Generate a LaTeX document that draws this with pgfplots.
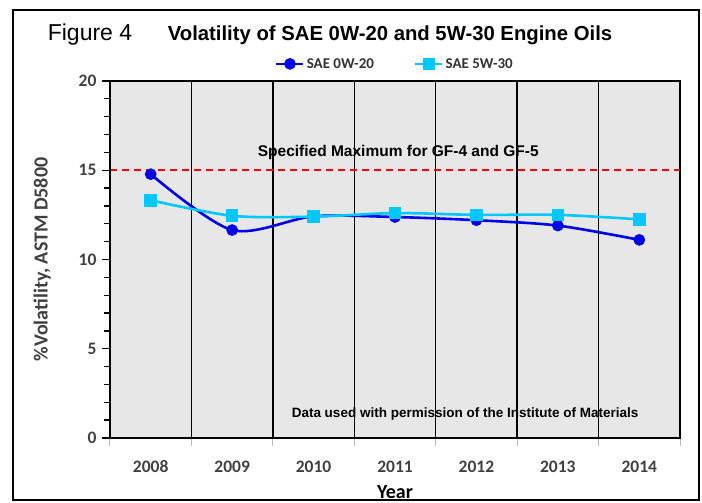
\documentclass[border=0pt]{standalone}
\usepackage{fontspec}
\setmainfont{Liberation Sans}
\newfontfamily\carlito{Carlito}
\usepackage{pgfplots}
\pgfplotsset{compat=1.18}
\definecolor{oilblue}{RGB}{0,0,235}
\definecolor{oilcyan}{RGB}{0,200,255}
\definecolor{tickgray}{RGB}{64,64,64}
\definecolor{bg}{RGB}{231,231,231}
\begin{document}
\begin{tikzpicture}
\path (0pt,0pt) rectangle (702pt,503pt);
\draw[line width=2.5pt] (13pt,3pt) rectangle (699pt,493pt);
\node[font=\fontsize{23}{26}\selectfont] at (90pt,468pt) {Figure 4};
\node[font=\bfseries\fontsize{20.3}{23}\selectfont] at (390pt,468pt) {Volatility of SAE 0W-20 and 5W-30 Engine Oils};
\begin{axis}[
  at={(110pt,65pt)}, anchor=south west,
  scale only axis, width=570pt, height=357pt,
  xmin=-0.5, xmax=6.5, ymin=0, ymax=20,
  axis background/.style={fill=bg},
  axis line style={black, line width=1.5pt},
  /pgf/number format/assume math mode=true,
  xtick={-0.5,0.5,1.5,2.5,3.5,4.5,5.5,6.5},
  x tick label as interval,
  xticklabels={2008,2009,2010,2011,2012,2013,2014},
  xmajorgrids,
  major grid style={black, line width=1.4pt},
  xtick pos=bottom, ytick pos=left,
  tick align=outside,
  every tick/.style={black, line width=1.3pt},
  every x tick/.style={gray!55, line width=1pt},
  ytick={0,5,10,15,20},
  minor y tick num=4,
  major tick length=8pt, minor tick length=6pt,
  ticklabel style={font=\carlito\bfseries\fontsize{17.5}{20}\selectfont, text=tickgray},
  xticklabel style={yshift=-11pt},
  yticklabel style={xshift=-2pt},
  xlabel={Year},
  ylabel={\%Volatility, ASTM D5800},
  xlabel style={at={(axis description cs:0.5,0)}, anchor=center, yshift=-54pt, font=\carlito\bfseries\fontsize{20}{22}\selectfont},
  ylabel style={at={(axis description cs:-0.119,0.5)}, anchor=center, font=\carlito\bfseries\fontsize{20}{22}\selectfont, text=tickgray},
  legend columns=2,
  legend style={at={(0.5,1.048)}, anchor=center, draw=none, fill=none,
    font=\carlito\bfseries\fontsize{15}{18}\selectfont, text=black!80,
    /tikz/every even column/.append style={column sep=38pt}},
  legend image code/.code={\draw[mark repeat=2, mark phase=2] plot coordinates {(0pt,0pt) (13.5pt,0pt) (27pt,0pt)};},
]
\addplot[oilblue, line width=2.6pt, smooth, mark=*, mark size=4.5pt, mark options={solid}]
  coordinates {(0,14.78) (1,11.65) (2,12.42) (3,12.38) (4,12.2) (5,11.9) (6,11.1)};
\addlegendentry{SAE 0W-20}
\addplot[oilcyan, line width=2.6pt, smooth, mark=square*, mark size=5pt, mark options={solid}]
  coordinates {(0,13.32) (1,12.45) (2,12.4) (3,12.6) (4,12.5) (5,12.5) (6,12.25)};
\addlegendentry{SAE 5W-30}
\addplot[red, line width=2pt, dash pattern=on 7pt off 5pt, forget plot]
  coordinates {(-0.5,15) (6.5,15)};
\node[font=\bfseries\fontsize{15.5}{18}\selectfont] at (axis cs:3.04,16.0) {Specified Maximum for GF-4 and GF-5};
\node[font=\bfseries\fontsize{13.5}{16}\selectfont] at (axis cs:3.86,1.35) {Data used with permission of the Institute of Materials};
\draw[line width=2.5pt] (rel axis cs:0,1) -- (rel axis cs:0,0) -- (rel axis cs:1,0);
\end{axis}
\end{tikzpicture}
\end{document}
